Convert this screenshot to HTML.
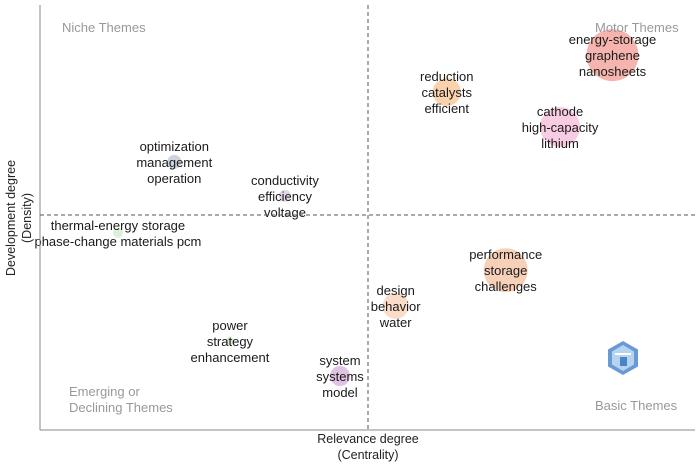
<!DOCTYPE html>
<html><head><meta charset="utf-8"><style>
html,body{margin:0;padding:0;background:#fff;}
svg{display:block;font-family:"Liberation Sans",Arial,sans-serif;}
</style></head><body>
<svg id="chart" width="700" height="468" viewBox="0 0 700 468">
<g id="bubbles"></g>
<g id="labels"></g>
<line x1="40" y1="5" x2="40" y2="430" stroke="#888" stroke-width="1"/>
<line x1="40" y1="430" x2="695" y2="430" stroke="#888" stroke-width="1"/>
<line id="vdash" x1="368" y1="5" x2="368" y2="430" stroke="#555" stroke-width="1" stroke-dasharray="4,3"/>
<line id="hdash" x1="40" y1="215" x2="695" y2="215" stroke="#555" stroke-width="1" stroke-dasharray="4,3"/>
<text x="62" y="32" font-size="13" fill="#999">Niche Themes</text>
<text x="595" y="32" font-size="13" fill="#999">Motor Themes</text>
<text x="69" y="396" font-size="13" fill="#999">Emerging or</text>
<text x="69" y="412" font-size="13" fill="#999">Declining Themes</text>
<text x="595" y="410" font-size="13" fill="#999">Basic Themes</text>
<text x="368" y="443" font-size="12.5" fill="#222" text-anchor="middle">Relevance degree</text>
<text x="368" y="459" font-size="12.5" fill="#222" text-anchor="middle">(Centrality)</text>
<text transform="translate(15,218) rotate(-90)" font-size="12.5" fill="#222" text-anchor="middle">Development degree</text>
<text transform="translate(31,218) rotate(-90)" font-size="12.5" fill="#222" text-anchor="middle">(Density)</text>
<g transform="translate(623,358)">
<polygon points="0,-17 15,-8.5 15,8.5 0,17 -15,8.5 -15,-8.5" fill="#6a9ad6"/>
<polygon points="0,-13 11,-6.5 11,6.5 0,13 -11,6.5 -11,-6.5" fill="#b5d4f0"/>
<rect x="-8" y="-5" width="16" height="2" fill="#fff"/>
<rect x="-3" y="-1" width="7" height="9" fill="#4c82c6"/>
</g>
</svg>
<script>
const themes=["energy-storage\ngraphene\nnanosheets","reduction\ncatalysts\nefficient","cathode\nhigh-capacity\nlithium","optimization\nmanagement\noperation","conductivity\nefficiency\nvoltage","thermal-energy storage\nphase-change materials pcm","performance\nstorage\nchallenges","design\nbehavior\nwater","power\nstrategy\nenhancement","system\nsystems\nmodel"];
const centrality=[0.874,0.621,0.794,0.205,0.374,0.119,0.711,0.543,0.290,0.458];
const density=[0.882,0.795,0.713,0.631,0.551,0.464,0.376,0.292,0.209,0.127];
const sizes=[26,14,20,7,6,5,22,13,4,10];
const colors=["#f6b4ae","#fad2ae","#f8cde3","#cdd4de","#e2d6e8","#dbefdb","#f7d0b8","#fadcc8","#d6ead0","#e0c2e2"];
const x=v=>40+v*655, y=v=>430-v*425;
const ns="http://www.w3.org/2000/svg";
const gb=document.getElementById('bubbles'), gl=document.getElementById('labels');
themes.forEach((t,i)=>{
 const c=document.createElementNS(ns,'circle');
 
 
 c.setAttribute('cx',x(centrality[i]));c.setAttribute('cy',y(density[i]));c.setAttribute('r',sizes[i]);c.setAttribute('fill',colors[i]);
 gb.appendChild(c);
 const lines=t.split("\n");
 const tx=document.createElementNS(ns,'text');
 
 
 tx.setAttribute('text-anchor','middle');tx.setAttribute('font-size','13');tx.setAttribute('fill','#1a1a1a');
 const y0=y(density[i])-(lines.length-1)*8+5;
 lines.forEach((l,j)=>{const s=document.createElementNS(ns,'tspan');s.setAttribute('x',x(centrality[i]));s.setAttribute('y',y0+j*16);s.textContent=l;tx.appendChild(s);});
 gl.appendChild(tx);
});
</script>
</body></html>
